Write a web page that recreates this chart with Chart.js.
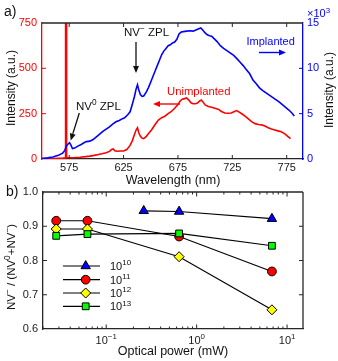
<!DOCTYPE html>
<html><head><meta charset="utf-8">
<script src="https://cdn.jsdelivr.net/npm/chart.js@4"></script>
<style>
html,body{margin:0;padding:0;background:#fff;}
#wrap{position:relative;width:338px;height:361px;background:#fff;}
canvas{position:absolute;left:0;top:0;}
</style></head><body>
<div id="wrap"><canvas id="ca" width="338" height="361"></canvas><canvas id="cb" width="338" height="361"></canvas></div>
<script>
const FONT = '"Liberation Sans", Arial, Helvetica, sans-serif';
const AX = '#262626';

// ---------- Panel a data ----------
const wavelengthTicks = [575, 625, 675, 725, 775];
const leftIntensityTicks = [0, 250, 500, 750];
const rightIntensityTicks = [0, 5, 10, 15]; // x10^3

const unimplantedNm = [550,555,560,565,569,571.3,571.7,572.2,572.6,575,580,585,590,594,598,602,606,609,612,614,615.5,617,619,622,625,628,631,633,635,636.5,637.8,639,640.5,642,643.5,646,648,651,654,657,660,663,666,669,672,675,677,679,681,683,685,687,689,691,693,695,696.5,698,700,703,706,709,712,715,718,721,724,727,729,731,734,737,740,743,746,749,752,755,758,761,764,767,770,773,776,778.5];
const unimplantedIntensity = [3,3,3,4,5,6,1000,1000,8,7,8,10,13,16,20,25,30,35,42,52,55,45,43,44,44,52,75,100,135,160,172,145,125,115,112,125,140,163,190,215,228,236,250,262,280,300,320,330,333,337,325,310,305,305,308,320,325,315,298,290,285,280,275,262,254,252,254,262,267,260,248,235,220,205,195,190,188,182,172,165,160,155,150,140,125,112];

const implantedNm = [550,555,560,565,569,571,572.5,574,575.3,576.5,578,580,583,586,589,591,594,597,600,603,606,609,612,615,618,621,624,626,629,631,633,635,636.5,637.8,639,640.5,642,643.5,646,648,650,652,654,656,658,660,662,664,666,668,670,672,674,676,678,680,683,686,689,691,693,696,698,700,702,704,706,708,711,714,717,720,723,726,729,732,735,738,741,744,747,750,753,756,759,762,765,768,771,774,777,780,782];
const implantedIntensityK = [0.05,0.12,0.22,0.4,0.65,0.95,1.45,1.65,1.8,1.55,1.15,1.2,1.42,1.6,1.82,1.92,1.97,2.15,2.45,2.75,3.05,3.3,3.55,3.85,4.1,4.25,4.45,4.55,4.9,5.2,6.0,6.9,7.7,8.2,7.6,7.1,6.9,6.95,7.4,7.9,8.5,9.1,9.7,10.3,10.9,11.5,11.9,12.2,12.5,12.6,12.8,12.9,13.2,13.8,14.0,14.05,14.1,14.15,14.1,14.2,14.3,14.45,14.2,13.9,13.7,13.6,13.55,13.3,12.95,12.5,12.2,11.95,11.7,11.45,11.1,10.7,10.3,9.85,9.4,8.7,8.3,7.85,7.55,7.3,7.05,6.8,6.55,6.3,6.0,5.7,5.4,5.05,4.75];

// ---------- Panel b data ----------
const powerTicks = [0.1, 1, 10];
const ratioTicks = [0.6, 0.7, 0.8, 0.9, 1.0];
const doseLabels = ['10', '11', '12', '13']; // exponents of 10^x
const power1e10 = [0.26, 0.64, 6.8];
const ratio1e10 = [0.945, 0.943, 0.922];
const power1e11 = [0.028, 0.062, 0.64, 6.8];
const ratio1e11 = [0.916, 0.916, 0.870, 0.768];
const power1e12 = [0.028, 0.062, 0.64, 6.8];
const ratio1e12 = [0.892, 0.892, 0.811, 0.656];
const power1e13 = [0.028, 0.062, 0.64, 6.8];
const ratio1e13 = [0.872, 0.877, 0.879, 0.843];

const pts = (xs, ys) => xs.map((x, i) => ({x: x, y: ys[i]}));

// ---------- helpers ----------
function rich(ctx, parts, x, y, align, size, color) {
  const sup = size * 0.72;
  const widths = parts.map(p => { ctx.font = (p[1] ? sup : size) + 'px ' + FONT; return ctx.measureText(p[0]).width; });
  const total = widths.reduce((a, b) => a + b, 0);
  let cx = align === 'center' ? x - total / 2 : (align === 'right' ? x - total : x);
  ctx.fillStyle = color; ctx.textBaseline = 'alphabetic'; ctx.textAlign = 'left';
  parts.forEach((p, i) => {
    ctx.font = (p[1] ? sup : size) + 'px ' + FONT;
    ctx.fillText(p[0], cx, p[1] ? y - size * 0.42 : y);
    cx += widths[i];
  });
}
function richRot(ctx, parts, cx, cy, size, color) {
  ctx.save(); ctx.translate(cx, cy); ctx.rotate(-Math.PI / 2);
  rich(ctx, parts, 0, size * 0.36, 'center', size, color);
  ctx.restore();
}
function arrow(ctx, x1, y1, x2, y2, color, lw, hl, hw) {
  ctx.save(); ctx.strokeStyle = color; ctx.fillStyle = color; ctx.lineWidth = lw;
  const a = Math.atan2(y2 - y1, x2 - x1);
  const bx = x2 - hl * Math.cos(a), by = y2 - hl * Math.sin(a);
  ctx.beginPath(); ctx.moveTo(x1, y1); ctx.lineTo(bx, by); ctx.stroke();
  ctx.beginPath(); ctx.moveTo(x2, y2);
  ctx.lineTo(bx + hw / 2 * Math.sin(a), by - hw / 2 * Math.cos(a));
  ctx.lineTo(bx - hw / 2 * Math.sin(a), by + hw / 2 * Math.cos(a));
  ctx.closePath(); ctx.fill(); ctx.restore();
}
function line(ctx, x1, y1, x2, y2, color, lw) {
  ctx.save(); ctx.strokeStyle = color; ctx.lineWidth = lw;
  ctx.beginPath(); ctx.moveTo(x1, y1); ctx.lineTo(x2, y2); ctx.stroke(); ctx.restore();
}
function marker(ctx, style, x, y, r, fill) {
  ctx.save(); ctx.fillStyle = fill; ctx.strokeStyle = '#000'; ctx.lineWidth = 1;
  ctx.beginPath();
  if (style === 'circle') { ctx.arc(x, y, r, 0, Math.PI * 2); }
  else if (style === 'triangle') {
    for (let k = 0; k < 3; k++) { const a = k * 2 * Math.PI / 3; const px = x + Math.sin(a) * r, py = y - Math.cos(a) * r; k ? ctx.lineTo(px, py) : ctx.moveTo(px, py); }
    ctx.closePath();
  } else if (style === 'rectRot') {
    ctx.moveTo(x, y - r); ctx.lineTo(x + r, y); ctx.lineTo(x, y + r); ctx.lineTo(x - r, y); ctx.closePath();
  } else { const s = r * Math.SQRT1_2; ctx.rect(x - s, y - s, 2 * s, 2 * s); }
  ctx.fill(); ctx.stroke(); ctx.restore();
}

// ---------- Panel a ----------
const panelAPlugin = {
  id: 'panelA',
  afterDraw(chart) {
    const ctx = chart.ctx, a = chart.chartArea;
    const xs = chart.scales.x, yl = chart.scales.y, yr = chart.scales.y2;
    line(ctx, a.left, a.top, a.right, a.top, AX, 1.3);
    wavelengthTicks.forEach(v => {
      const px = xs.getPixelForValue(v);
      line(ctx, px, a.bottom, px, a.bottom - 4, AX, 1);
      line(ctx, px, a.top, px, a.top + 4, AX, 1);
    });
    leftIntensityTicks.slice(1, -1).forEach(v => { const py = yl.getPixelForValue(v); line(ctx, a.left, py, a.left + 4, py, '#ff0000', 1); });
    rightIntensityTicks.slice(1, -1).forEach(v => { const py = yr.getPixelForValue(v); line(ctx, a.right, py, a.right - 4, py, '#0000ff', 1); });

    rich(ctx, [['a)', 0]], 4, 16, 'left', 14, '#111');
    rich(ctx, [['×10', 0], ['3', 1]], 307, 17.3, 'left', 11, '#0000ff');
    richRot(ctx, [['Intensity (a.u.)', 0]], 11, 88, 12, '#111');
    richRot(ctx, [['Intensity (a.u.)', 0]], 328.5, 90, 12, '#111');
    rich(ctx, [['Wavelength (nm)', 0]], 173, 184, 'center', 12.5, '#111');

    rich(ctx, [['NV', 0], ['0', 1], [' ZPL', 0]], 76, 110, 'left', 11.5, '#111');
    arrow(ctx, 79.3, 113, 70.7, 140.5, '#111', 1.3, 7, 6);
    rich(ctx, [['NV', 0], ['−', 1], [' ZPL', 0]], 124, 36, 'left', 11.5, '#111');
    arrow(ctx, 136, 42, 136, 73, '#111', 1.3, 7, 6);
    rich(ctx, [['Unimplanted', 0]], 167, 94.5, 'left', 11.3, '#ff0000');
    arrow(ctx, 180, 104, 153, 104, '#ff0000', 1.4, 7, 6);
    rich(ctx, [['Implanted', 0]], 246.5, 45, 'left', 11, '#0000ff');
    arrow(ctx, 259, 52.5, 286, 52.5, '#0000ff', 1.4, 7, 6);
  }
};

new Chart(document.getElementById('ca'), {
  type: 'line',
  data: { datasets: [
    { label: 'Implanted', data: pts(implantedNm, implantedIntensityK), yAxisID: 'y2', borderColor: '#0000ff', borderWidth: 1.6, pointRadius: 0, tension: 0, fill: false },
    { label: 'Unimplanted', data: pts(unimplantedNm, unimplantedIntensity), yAxisID: 'y', borderColor: '#ff0000', borderWidth: 1.6, pointRadius: 0, tension: 0, fill: false }
  ]},
  options: {
    responsive: false, animation: false, devicePixelRatio: 1,
    layout: { padding: { top: 23, bottom: 181, left: 0, right: 0 } },
    plugins: { legend: { display: false }, tooltip: { enabled: false } },
    scales: {
      x: { type: 'linear', min: 550, max: 790,
        afterBuildTicks: s => { s.ticks = wavelengthTicks.map(v => ({ value: v })); },
        afterFit: s => { s.height = 21; },
        grid: { display: false, drawTicks: false }, border: { display: true, color: AX, width: 1.3 },
        ticks: { padding: 2, color: '#1a1a1a', font: { family: FONT, size: 11 }, maxRotation: 0, autoSkip: false } },
      y: { type: 'linear', position: 'left', min: 0, max: 750,
        afterBuildTicks: s => { s.ticks = leftIntensityTicks.map(v => ({ value: v })); },
        afterFit: s => { s.width = 42; },
        grid: { display: false, drawTicks: false }, border: { display: true, color: '#ff0000', width: 1.3 },
        ticks: { padding: 5, color: '#ff0000', font: { family: FONT, size: 11 } } },
      y2: { type: 'linear', position: 'right', min: 0, max: 15,
        afterBuildTicks: s => { s.ticks = rightIntensityTicks.map(v => ({ value: v })); },
        afterFit: s => { s.width = 35; },
        grid: { display: false, drawTicks: false }, border: { display: true, color: '#0000ff', width: 1.3 },
        ticks: { padding: 4, color: '#0000ff', font: { family: FONT, size: 11 } } }
    }
  },
  plugins: [panelAPlugin]
});

// ---------- Panel b ----------
const seriesB = [
  { exp: doseLabels[0], xs: power1e10, ys: ratio1e10, style: 'triangle', r: 5.4, fill: '#0000ff', order: 3 },
  { exp: doseLabels[1], xs: power1e11, ys: ratio1e11, style: 'circle', r: 4.4, fill: '#ff0000', order: 2 },
  { exp: doseLabels[2], xs: power1e12, ys: ratio1e12, style: 'rectRot', r: 5, fill: '#ffff00', order: 1 },
  { exp: doseLabels[3], xs: power1e13, ys: ratio1e13, style: 'rect', r: 4.8, fill: '#00ff00', order: 0 }
];

const panelBPlugin = {
  id: 'panelB',
  afterDraw(chart) {
    const ctx = chart.ctx, a = chart.chartArea;
    const xs = chart.scales.x, ys = chart.scales.y;
    line(ctx, a.left, a.top, a.right, a.top, AX, 1.3);
    line(ctx, a.right, a.top, a.right, a.bottom, AX, 1.3);
    ratioTicks.slice(1, -1).forEach(v => {
      const py = ys.getPixelForValue(v);
      line(ctx, a.left, py, a.left + 4, py, AX, 1);
      line(ctx, a.right, py, a.right - 4, py, AX, 1);
    });
    for (let d = 0.01; d <= 10; d *= 10) {
      for (let m = 1; m <= 9; m++) {
        const v = d * m;
        if (v < xs.min * 0.999 || v > xs.max * 1.001) continue;
        const px = xs.getPixelForValue(v);
        const len = m === 1 ? 4.5 : 2.5;
        line(ctx, px, a.bottom, px, a.bottom - len, AX, 1);
        line(ctx, px, a.top, px, a.top + len, AX, 1);
      }
    }
    powerTicks.forEach(v => {
      const px = xs.getPixelForValue(v);
      const e = Math.round(Math.log10(v));
      rich(ctx, [['10', 0], [e < 0 ? '−' + (-e) : String(e), 1]], px, 343.5, 'center', 11, '#1a1a1a');
    });
    rich(ctx, [['b)', 0]], 6, 196, 'left', 14, '#111');
    rich(ctx, [['Optical power (mW)', 0]], 173, 354.5, 'center', 12.5, '#111');
    richRot(ctx, [['NV', 0], ['−', 1], [' / (NV', 0], ['0', 1], ['+NV', 0], ['−', 1], [')', 0]], 10.5, 267, 11.5, '#111');

    const rowY = [266, 279.7, 293, 306.3];
    seriesB.forEach((s, i) => {
      const y = rowY[i];
      line(ctx, 63, y, 100, y, '#000', 1.2);
      marker(ctx, s.style, 85.7, y, s.r, s.fill);
      rich(ctx, [['10', 0], [s.exp, 1]], 110, y + 4, 'left', 11, '#111');
    });
  }
};

new Chart(document.getElementById('cb'), {
  type: 'line',
  data: { datasets: seriesB.map(s => ({
    label: '10^' + s.exp, data: pts(s.xs, s.ys), order: s.order,
    borderColor: '#000', borderWidth: 1.2, tension: 0, fill: false, showLine: true,
    pointStyle: s.style, pointRadius: s.r, pointBackgroundColor: s.fill, pointBorderColor: '#000', pointBorderWidth: 1
  })) },
  options: {
    responsive: false, animation: false, devicePixelRatio: 1,
    layout: { padding: { top: 192, bottom: 0, left: 0, right: 35 } },
    plugins: { legend: { display: false }, tooltip: { enabled: false } },
    scales: {
      x: { type: 'logarithmic', min: 0.02, max: 15,
        afterFit: s => { s.height = 32; },
        grid: { display: false, drawTicks: false }, border: { display: true, color: AX, width: 1.3 },
        ticks: { display: false } },
      y: { type: 'linear', min: 0.6, max: 1.0,
        afterBuildTicks: s => { s.ticks = ratioTicks.map(v => ({ value: v })); },
        afterFit: s => { s.width = 43; },
        grid: { display: false, drawTicks: false }, border: { display: true, color: AX, width: 1.3 },
        ticks: { padding: 5, color: '#1a1a1a', font: { family: FONT, size: 11 }, callback: v => Number(v).toFixed(1) } }
    }
  },
  plugins: [panelBPlugin]
});
</script>
</body></html>
